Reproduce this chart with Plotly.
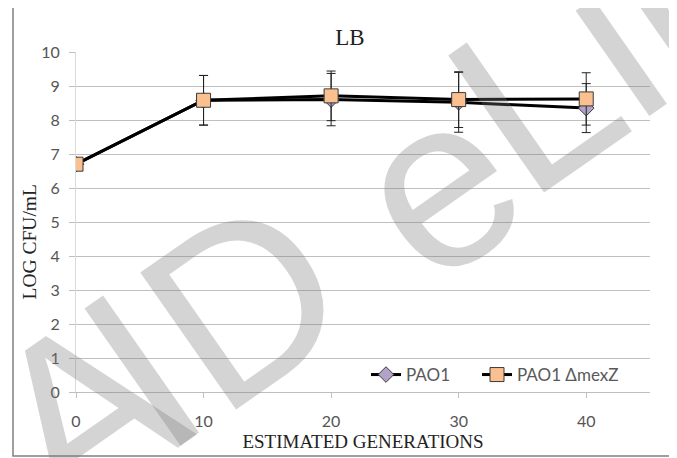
import plotly.graph_objects as go

# ---- data ----
generations = [0, 10, 20, 30, 40]
pao1 = [6.70, 8.58, 8.60, 8.52, 8.35]
pao1_err = [0.0, 0.73, 0.77, 0.88, 0.72]
mexz = [6.70, 8.58, 8.71, 8.60, 8.62]
mexz_err = [0.0, 0.73, 0.73, 0.82, 0.77]
y_ticks = [0, 1, 2, 3, 4, 5, 6, 7, 8, 9, 10]
x_ticks = [0, 10, 20, 30, 40]

OFF = 8  # page body margin of the browser
W, H = 677 - OFF, 458 - OFF
# plot area in reference-picture pixels
L, R, T, B = 76, 650, 52, 392


def px(x):
    return (x - L) / (R - L)


def py(y):
    return (B - y) / (B - T)


fig = go.Figure()
fig.add_trace(go.Scatter(
    x=generations, y=pao1, name="PAO1", mode="lines+markers",
    line=dict(color="black", width=3),
    marker=dict(symbol="diamond", size=12, color="#B3A2C7",
                line=dict(color="#3a3a3a", width=1)),
    error_y=dict(type="data", array=pao1_err, visible=True,
                 color="#222222", thickness=1, width=4.5),
    legendwidth=66,
))
fig.add_trace(go.Scatter(
    x=generations, y=mexz, name="PAO1 ΔmexZ", mode="lines+markers",
    line=dict(color="black", width=3),
    marker=dict(symbol="square", size=14, color="#FAC090",
                line=dict(color="#3a3a3a", width=1)),
    error_y=dict(type="data", array=mexz_err, visible=True,
                 color="#222222", thickness=1, width=4.5),
))

tick_font = dict(family="Lato, sans-serif", size=16, color="#555555")
serif = "Liberation Serif, Times New Roman, serif"

fig.update_layout(
    width=W, height=H,
    margin=dict(l=L - OFF, r=W - (R - OFF), t=T - OFF, b=H - (B - OFF), autoexpand=False),
    paper_bgcolor="white", plot_bgcolor="white",
    title=dict(text="LB", x=(350 - OFF) / W, xanchor="center", y=1 - (37 - OFF) / H,
               yanchor="middle", font=dict(family=serif, size=23, color="#222222")),
    showlegend=True,
    legend=dict(orientation="h", x=px(366), xanchor="left", y=py(375),
                yanchor="middle", bgcolor="rgba(0,0,0,0)",
                font=dict(family="Lato, sans-serif", size=17, color="#595959"),
                itemclick=False),
    xaxis=dict(range=[0, 45], tickvals=x_ticks, ticktext=[str(v) for v in x_ticks],
               showgrid=False, zeroline=False, showline=True, linecolor="#BFBFBF",
               linewidth=1, ticks="outside", ticklen=5, tickcolor="#BFBFBF",
               ticklabelstandoff=10, tickfont=tick_font,
               title=dict(text="ESTIMATED GENERATIONS", standoff=5,
                          font=dict(family=serif, size=19, color="#222222"))),
    yaxis=dict(range=[0, 10], tickvals=y_ticks, showgrid=True, gridcolor="#BFBFBF",
               gridwidth=1.2, zeroline=False, showline=True, linecolor="#D9D9D9",
               linewidth=1, ticks="outside", ticklen=6, tickcolor="#BFBFBF",
               ticklabelstandoff=6, tickfont=tick_font),
)

# y-axis title placed to match reference position
fig.add_annotation(text="LOG CFU/mL", xref="paper", yref="paper",
                   x=px(28.5), y=py(242), textangle=-90, showarrow=False,
                   xanchor="center", yanchor="middle",
                   font=dict(family=serif, size=19.5, color="#222222"))

# outer chart frame
fig.add_shape(type="rect", xref="paper", yref="paper",
              x0=px(13), x1=px(700), y0=py(456), y1=py(5),
              line=dict(color="#808080", width=1.5), fillcolor="rgba(0,0,0,0)",
              layer="above")

# watermark letters (decoration)
wm_letters = ["A", "I", "D", "e", "L", "i", "b"]
wm_cx = [82, 141, 243, 436, 534, 610, 687]
wm_cy = [411, 369, 301, 184, 96, 41, -14]
for ch, cx, cy in zip(wm_letters, wm_cx, wm_cy):
    fig.add_annotation(text=ch, xref="paper", yref="paper", x=px(cx), y=py(cy),
                       xanchor="center", yanchor="middle", showarrow=False,
                       textangle=-35,
                       font=dict(family="Liberation Sans, Arial, sans-serif",
                                 size=243, color="rgba(120,120,120,0.32)"))

fig.write_html("out.html")
